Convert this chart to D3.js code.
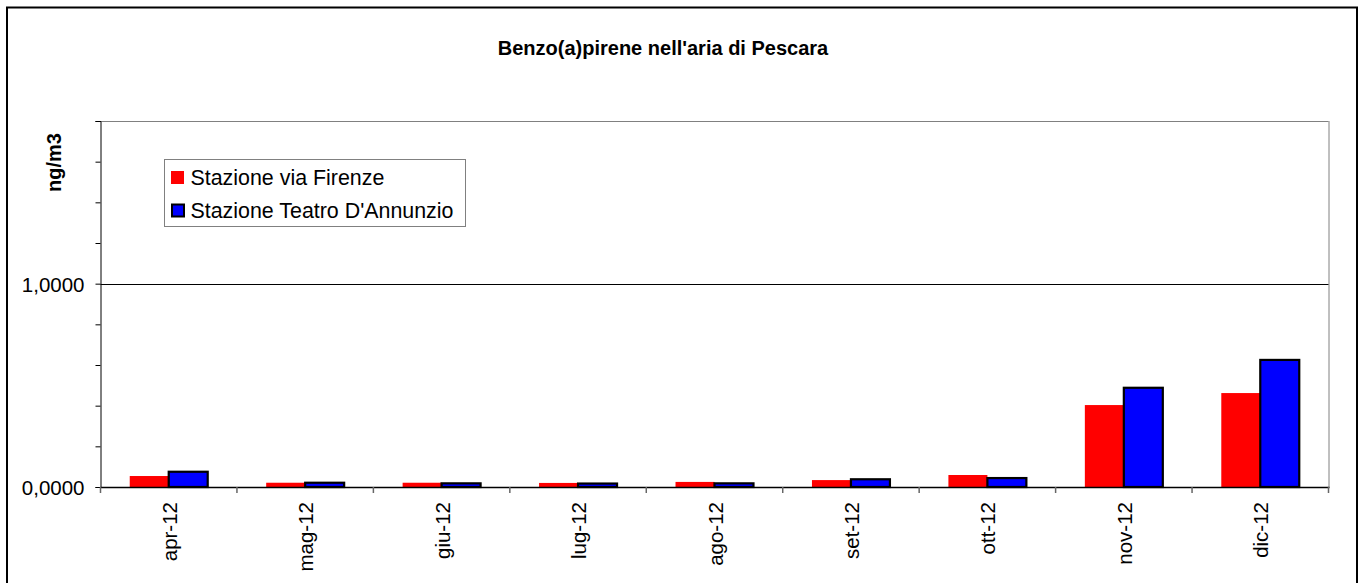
<!DOCTYPE html>
<html><head><meta charset="utf-8">
<script src="https://cdn.jsdelivr.net/npm/d3@7"></script>
<style>body{margin:0;background:#fff;}svg{display:block;font-family:"Liberation Sans",Arial,sans-serif;}</style>
</head><body>
<svg id="c" width="1364" height="583"></svg>
<script>
const categories = ["apr-12","mag-12","giu-12","lug-12","ago-12","set-12","ott-12","nov-12","dic-12"];
const seriesNames = ["Stazione via Firenze","Stazione Teatro D'Annunzio"];
const firenze = [0.054,0.021,0.021,0.020,0.025,0.034,0.059,0.403,0.462];
const teatro  = [0.075,0.021,0.018,0.017,0.018,0.038,0.044,0.488,0.625];
const yTicks = [0,0.2,0.4,0.6,0.8,1.0,1.2,1.4,1.6,1.8];
const yLabels = [0,1.0];
const colors = ["#ff0000","#0000ff"];

const svg = d3.select("#c");
const L=100.5, R=1328.5, T=121, B=487;
svg.append("rect").attr("x",7).attr("y",7.5).attr("width",1350).attr("height",600)
  .attr("fill","#fff").attr("stroke","#000").attr("stroke-width",2);

const x = d3.scaleBand().domain(categories).range([L,R]).paddingInner(0).paddingOuter(0);
const y = d3.scaleLinear().domain([0,1.8]).range([B,T]);
const bw = x.bandwidth()/3.5;
const x1 = d3.scaleBand().domain([0,1]).range([0.75*bw, 2.75*bw]);

// plot frame
svg.append("line").attr("x1",L).attr("x2",R).attr("y1",T+0.5).attr("y2",T+0.5).attr("stroke","#808080");
svg.append("line").attr("x1",R+0.5).attr("x2",R+0.5).attr("y1",T).attr("y2",B).attr("stroke","#808080");
// gridline at 1.0
svg.append("line").attr("x1",L).attr("x2",R).attr("y1",Math.round(y(1))+0.5).attr("y2",Math.round(y(1))+0.5).attr("stroke","#000");

const data = [firenze, teatro];
const g = svg.append("g");
categories.forEach((c,i)=>{
  data.forEach((s,j)=>{
    g.append("rect").attr("x",x(c)+x1(j)).attr("width",x1.bandwidth())
      .attr("y",y(s[i])).attr("height",B-y(s[i]))
      .attr("fill",colors[j])
      .attr("stroke", j===1?"#000":"none").attr("stroke-width",2.2);
  });
});

// y axis
const ya = d3.axisLeft(y).tickValues(yTicks).tickSize(5)
  .tickFormat(d=> yLabels.some(v=>Math.abs(v-d)<1e-9) ? d3.format(".4f")(d).replace(".",",") : "");
svg.append("g").attr("transform",`translate(${L},0)`).call(ya)
  .call(g=>{g.select(".domain").attr("stroke","#000");g.selectAll("line").attr("stroke","#000");
    g.selectAll("text").attr("font-size",20.5).attr("fill","#000").attr("font-family","Liberation Sans, Arial").attr("x",-16).attr("dy","0.36em");});

// x axis
const xt = d3.scaleLinear().domain([0,categories.length]).range([L,R]);
svg.append("line").attr("x1",L).attr("x2",R+1).attr("y1",B+0.5).attr("y2",B+0.5).attr("stroke","#000").attr("stroke-width",1.5);
d3.range(categories.length+1).forEach(k=>{
  svg.append("line").attr("x1",xt(k)).attr("x2",xt(k)).attr("y1",B).attr("y2",B+6).attr("stroke","#666").attr("stroke-width",1.5);
});
svg.append("g").selectAll("text").data(categories).join("text")
  .attr("transform",d=>`translate(${x(d)+x.bandwidth()/2+8},502) rotate(-90)`)
  .attr("text-anchor","end").attr("font-size",20.5).attr("fill","#000").text(d=>d);

// title
svg.append("text").attr("x",663).attr("y",55).attr("text-anchor","middle")
  .attr("font-size",20).attr("font-weight","bold").text("Benzo(a)pirene nell'aria di Pescara");
// y label
svg.append("text").attr("transform","translate(61,162.5) rotate(-90)").attr("text-anchor","middle")
  .attr("font-size",20).attr("font-weight","bold").text("ng/m3");

// legend
const lg = svg.append("g");
lg.append("rect").attr("x",164.5).attr("y",159.5).attr("width",301).attr("height",67)
  .attr("fill","#fff").attr("stroke","#808080");
seriesNames.forEach((n,j)=>{
  const yy = 171 + j*33;
  lg.append("rect").attr("x",j?172:171).attr("y",j?yy+0.5:yy).attr("width",j?12:13).attr("height",j?12:13)
    .attr("fill",colors[j]).attr("stroke",j?"#000":"none").attr("stroke-width",2);
  lg.append("text").attr("x",190.5).attr("y",yy+13.5).attr("font-size",21.4).text(n);
});
</script>
</body></html>
